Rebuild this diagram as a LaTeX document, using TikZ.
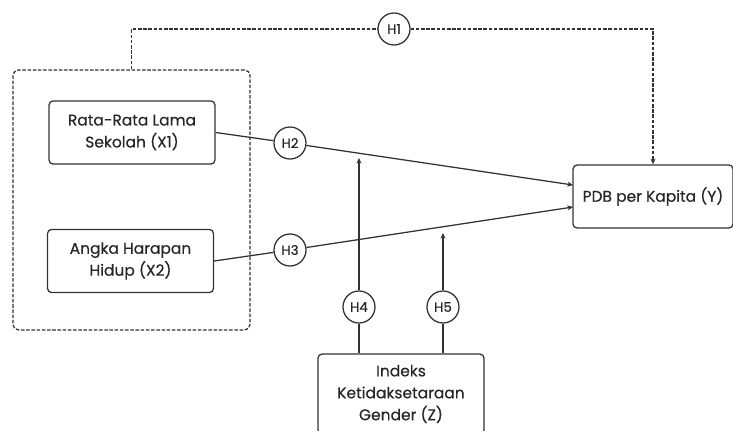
\documentclass[tikz,border=0pt]{standalone}
\usepackage{fontspec}
\setmainfont{Poppins}[FakeBold=0.4]
\usetikzlibrary{arrows.meta,positioning}

\begin{document}
\begin{tikzpicture}[x=0.025cm,y=-0.025cm,
    >={Stealth[length=4pt,width=3.6pt]},
    varbox/.style={draw=black!80,line width=0.9pt,rounded corners=3pt,align=center,text=black!85,
      font=\fontsize{11}{15.6}\selectfont,minimum width=4.15cm,minimum height=1.58cm},
    hyp/.style={draw=black!80,line width=0.9pt,circle,fill=white,minimum size=0.8cm,inner sep=0pt,
      text=black!85,font=\fontsize{9.5}{10}\selectfont},
    link/.style={draw=black!80,line width=0.9pt},
    dashlink/.style={draw=black!80,line width=0.9pt,dash pattern=on 2.5pt off 1.2pt}]
  \useasboundingbox (0,0) rectangle (733,430);
  % variables
  \node[dashlink,rounded corners=4pt,minimum width=5.925cm,minimum height=6.5cm] (grp) at (131.5,200) {};
  \node[varbox] (x1) at (132,132.5) {Rata-Rata Lama\\Sekolah (X1)};
  \node[varbox] (x2) at (130.5,261) {Angka Harapan\\Hidup (X2)};
  \node[varbox,minimum width=4cm] (pdb) at (653,196.5) {PDB per Kapita (Y)};
  \node[varbox,minimum height=2cm] (z) at (401,394) {Indeks\\Ketidaksetaraan\\Gender (Z)};
  % hypotheses
  \node[hyp] (h1) at (394,29) {H1};
  \node[hyp] (h2) at (290,143) {H2};
  \node[hyp] (h3) at (290,250) {H3};
  \node[hyp] (h4) at (359,307) {H4};
  \node[hyp] (h5) at (443,307) {H5};
  \coordinate (y1) at (573,185);
  \coordinate (y2) at (573,207);
  \coordinate (h4end) at (359,158);
  \coordinate (h5end) at (443,233);
  % paths
  \draw[dashlink] (grp.north) |- (h1);
  \draw[dashlink,->] (h1) -| (pdb.north);
  \draw[link] (x1.east) -- (h2);
  \draw[link,->] (h2) -- (y1);
  \draw[link] (x2.east) -- (h3);
  \draw[link,->] (h3) -- (y2);
  \draw[link] (h4 |- z.north) -- (h4);
  \draw[link,->] (h4) -- (h4end);
  \draw[link] (h5 |- z.north) -- (h5);
  \draw[link,->] (h5) -- (h5end);
\end{tikzpicture}
\end{document}
